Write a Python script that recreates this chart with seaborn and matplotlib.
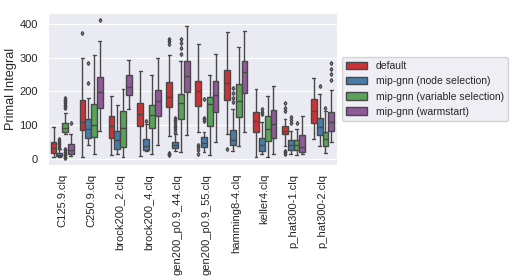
import pandas as pd
import seaborn as sns
import matplotlib.pyplot as plt

# instances and solver settings
instances = ['C125.9.clq', 'C250.9.clq', 'brock200_2.clq', 'brock200_4.clq',
             'gen200_p0.9_44.clq', 'gen200_p0.9_55.clq', 'hamming8-4.clq',
             'keller4.clq', 'p_hat300-1.clq', 'p_hat300-2.clq']
methods = ['default', 'mip-gnn (node selection)',
           'mip-gnn (variable selection)', 'mip-gnn (warmstart)']

# box statistics, one row per instance, one column per method
lo = [[5, 5, 72, 8], [5, 41, 15, 83], [10, 15, 5, 146], [8, 24, 15, 41],
      [66, 22, 20, 70], [80, 21, 10, 49], [73, 24, 39, 80], [5, 15, 5, 15],
      [39, 15, 10, 15], [59, 39, 18, 49]]
q1 = [[18, 8, 80, 15], [85, 62, 63, 151], [60, 29, 34, 190], [96, 26, 90, 127],
      [154, 31, 117, 197], [156, 35, 98, 139], [173, 41, 125, 195], [80, 24, 51, 60],
      [72, 27, 27, 20], [107, 70, 39, 83]]
med = [[32, 12, 92, 27], [110, 88, 100, 197], [96, 54, 90, 213], [134, 39, 129, 171],
       [183, 40, 166, 246], [200, 46, 161, 190], [224, 54, 171, 256], [112, 42, 88, 102],
       [83, 42, 42, 34], [141, 95, 57, 110]]
q3 = [[49, 17, 105, 44], [174, 119, 161, 242], [127, 81, 141, 249], [164, 59, 158, 205],
      [226, 49, 193, 290], [231, 64, 183, 231], [263, 85, 222, 291], [137, 60, 127, 143],
      [97, 56, 56, 70], [176, 122, 80, 139]]
hi = [[93, 28, 135, 73], [300, 180, 307, 349], [185, 158, 207, 293], [260, 102, 249, 300],
      [307, 72, 290, 395], [341, 78, 249, 312], [376, 146, 330, 379], [207, 110, 187, 217],
      [117, 83, 88, 127], [239, 193, 141, 205]]
fliers = {
    ('C125.9.clq', 1): [33, 38, 43, 48, 53, 58],
    ('C125.9.clq', 2): [2, 6, 10, 15, 20, 25, 30, 150, 155, 160, 165, 170, 175, 180],
    ('C125.9.clq', 3): [107],
    ('C250.9.clq', 0): [373],
    ('C250.9.clq', 1): [224, 283],
    ('C250.9.clq', 3): [412],
    ('brock200_4.clq', 1): [112],
    ('gen200_p0.9_44.clq', 0): [12, 15, 18, 340, 348, 355],
    ('gen200_p0.9_44.clq', 1): [80, 88, 95, 100, 108, 115, 122],
    ('gen200_p0.9_44.clq', 2): [312, 327, 342, 356],
    ('gen200_p0.9_55.clq', 0): [15, 25, 35, 40],
    ('gen200_p0.9_55.clq', 1): [112, 117, 122, 176],
    ('hamming8-4.clq', 0): [29],
    ('hamming8-4.clq', 1): [167, 180, 195, 211],
    ('keller4.clq', 1): [132, 139, 146],
    ('p_hat300-1.clq', 0): [15, 20, 24, 140, 150, 164],
    ('p_hat300-1.clq', 1): [105, 115, 125],
    ('p_hat300-1.clq', 2): [107],
    ('p_hat300-2.clq', 1): [215],
    ('p_hat300-2.clq', 2): [151],
    ('p_hat300-2.clq', 3): [234, 250, 266, 283],
}

# rebuild samples whose quartiles and whiskers match the stats above
rows = []
for i, inst in enumerate(instances):
    for j, m in enumerate(methods):
        sample = ([lo[i][j]] + [q1[i][j]] * 30 + [med[i][j]] * 30
                  + [q3[i][j]] * 30 + [hi[i][j]] + fliers.get((inst, j), []))
        rows += [(inst, m, v) for v in sample]
df = pd.DataFrame(rows, columns=['Instance', 'Method', 'Primal Integral'])

sns.set_style("darkgrid")
plt.rcParams['font.family'] = ['Liberation Sans', 'DejaVu Sans']
fig = plt.figure(figsize=(5.25, 2.8), dpi=100)
ax = fig.add_axes([0.091, 0.411, 0.551, 0.543])
sns.boxplot(data=df, x='Instance', y='Primal Integral', hue='Method',
            palette='Set1', linewidth=1, fliersize=2,
            flierprops={'marker': 'd'}, ax=ax)

ax.set_xlabel('')
ax.set_ylabel('Primal Integral', fontsize=9.2, labelpad=2)
ax.set_yticks([0, 100, 200, 300, 400])
ax.tick_params(axis='y', labelsize=8, pad=3.5)
ax.tick_params(axis='x', labelsize=8, pad=3)
plt.setp(ax.get_xticklabels(), rotation=90)

ax.legend(loc='center left', bbox_to_anchor=(1.0, 0.5), fontsize=7.5)

fig.savefig('out.png', dpi=100)
